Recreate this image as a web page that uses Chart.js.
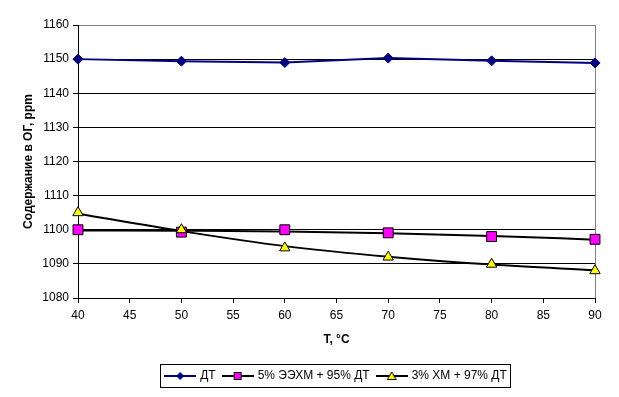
<!DOCTYPE html>
<html>
<head>
<meta charset="utf-8">
<script src="https://cdn.jsdelivr.net/npm/chart.js@4/dist/chart.umd.min.js"></script>
<style>
html,body{margin:0;padding:0;background:#fff;}
#wrap{width:619px;height:397px;}
</style>
</head>
<body>
<div id="wrap"><canvas id="c" width="619" height="397"></canvas></div>
<script>
// ---- data ----
const temps = [40, 50, 60, 70, 80, 90];
const seriesNames = ['ДТ', '5% ЭЭХМ + 95% ДТ', '3% ХМ + 97% ДТ'];
const dtValues = [1150, 1149.4, 1149, 1150.3, 1149.5, 1148.9];
const eehmValues = [1100, 1099.3, 1100, 1099.1, 1098, 1097.2];
const hmValues = [1105, 1100, 1094.7, 1092, 1089.9, 1088];
// trend lines as drawn in the reference (read at each temperature)
const eehmTrend = [1099.8, 1099.7, 1099.5, 1099.0, 1098.2, 1097.1];
const hmTrend = [1104.7, 1099.6, 1095.2, 1092.1, 1089.8, 1088.1];
const xTicks = [40, 45, 50, 55, 60, 65, 70, 75, 80, 85, 90];
const yTicks = [1080, 1090, 1100, 1110, 1120, 1130, 1140, 1150, 1160];
const xTitle = 'T, °C';
const yTitle = 'Содержание в ОГ, ppm';

const FONT = 'Arial, "Liberation Sans", sans-serif';
const pts = vals => temps.map((t, i) => ({x: t, y: vals[i]}));

function legendImg(kind) {
  const c = document.createElement('canvas');
  c.width = 32; c.height = 12;
  const g = c.getContext('2d');
  g.lineWidth = 2;
  g.strokeStyle = kind === 0 ? '#000080' : '#000';
  g.beginPath(); g.moveTo(0, 6); g.lineTo(32, 6); g.stroke();
  g.lineWidth = 1;
  if (kind === 0) {
    g.fillStyle = '#000080';
    g.beginPath(); g.moveTo(16, 2); g.lineTo(20, 6); g.lineTo(16, 10); g.lineTo(12, 6); g.closePath(); g.fill();
  } else if (kind === 1) {
    g.fillStyle = '#FF00FF'; g.strokeStyle = '#000';
    g.fillRect(12.5, 2.5, 7, 7); g.strokeRect(12.5, 2.5, 7, 7);
  } else {
    g.fillStyle = '#FFFF00'; g.strokeStyle = '#000';
    g.beginPath(); g.moveTo(16, 2); g.lineTo(20.5, 9.5); g.lineTo(11.5, 9.5); g.closePath(); g.fill(); g.stroke();
  }
  return c;
}
const legendImgs = [legendImg(0), legendImg(1), legendImg(2)];

const framePlugin = {
  id: 'frame',
  beforeDatasetsDraw(chart) {
    const {ctx, chartArea: a} = chart;
    ctx.save();
    ctx.strokeStyle = '#808080'; ctx.lineWidth = 1;
    ctx.beginPath(); ctx.moveTo(a.right + 0.5, a.top); ctx.lineTo(a.right + 0.5, a.bottom); ctx.stroke();
    ctx.restore();
  },
  afterDraw(chart) {
    const lg = chart.legend;
    if (!lg || !lg.legendHitBoxes || !lg.legendHitBoxes.length) return;
    const hb = lg.legendHitBoxes;
    const first = hb[0], last = hb[hb.length - 1];
    const l = Math.round(first.left - 6) + 0.5;
    const r = Math.round(last.left + last.width + 3) + 0.5;
    const t = Math.round(first.top - 6) + 0.5;
    const b = Math.round(first.top + first.height + 5) + 0.5;
    const ctx = chart.ctx;
    ctx.save();
    ctx.strokeStyle = '#000'; ctx.lineWidth = 1;
    ctx.strokeRect(l, t, r - l, b - t);
    ctx.restore();
  }
};

new Chart(document.getElementById('c'), {
  type: 'line',
  data: {
    datasets: [
      {label: seriesNames[0], data: pts(dtValues), borderColor: '#000080', backgroundColor: '#000080',
       borderWidth: 2, pointStyle: 'rectRot', pointRadius: 5, pointBorderWidth: 1, tension: 0, order: 2, clip: false},
      {label: seriesNames[1], data: pts(eehmValues), showLine: false, pointStyle: 'rect', pointRadius: 7,
       backgroundColor: '#FF00FF', borderColor: '#000', pointBorderWidth: 1, order: 1, clip: false},
      {label: seriesNames[2], data: pts(hmValues), showLine: false, pointStyle: 'triangle', pointRadius: 6,
       backgroundColor: '#FFFF00', borderColor: '#000', pointBorderWidth: 1, order: 0, clip: false},
      {label: 'trend1', data: pts(eehmTrend), borderColor: '#000', borderWidth: 2, pointRadius: 0,
       cubicInterpolationMode: 'monotone', order: 3, clip: false},
      {label: 'trend2', data: pts(hmTrend), borderColor: '#000', borderWidth: 2, pointRadius: 0,
       cubicInterpolationMode: 'monotone', order: 4, clip: false}
    ]
  },
  options: {
    responsive: false,
    animation: false,
    events: [],
    layout: {padding: {left: 0, right: 24, top: 25, bottom: 5}},
    scales: {
      x: {
        type: 'linear', min: 40, max: 90,
        afterBuildTicks: s => { s.ticks = xTicks.map(v => ({value: v})); },
        afterFit: s => { s.height = 64; },
        grid: {drawOnChartArea: false, drawTicks: true, tickLength: 5, color: '#000', tickColor: '#000'},
        border: {color: '#000', width: 1},
        ticks: {color: '#000', font: {family: FONT, size: 12}, padding: 5, maxRotation: 0, autoSkip: false,
                callback: v => String(v)},
        title: {display: true, text: xTitle, color: '#000', font: {family: FONT, size: 12, weight: 'bold'},
                padding: {top: 0, bottom: 15}}
      },
      y: {
        min: 1080, max: 1160,
        afterBuildTicks: s => { s.ticks = yTicks.map(v => ({value: v})); },
        afterFit: s => { s.width = 78; },
        grid: {color: c => (c.tick && c.tick.value === 1160) ? '#808080' : '#000', tickColor: '#000',
               tickLength: 5, lineWidth: 1},
        border: {color: '#000', width: 1},
        ticks: {color: '#000', font: {family: FONT, size: 12}, padding: 4, callback: v => String(v)},
        title: {display: true, text: yTitle, color: '#000', font: {family: FONT, size: 12, weight: 'bold'},
                padding: {top: 21, bottom: 0}}
      }
    },
    plugins: {
      tooltip: {enabled: false},
      legend: {
        display: true, position: 'bottom', fullSize: false,
        labels: {
          usePointStyle: true, pointStyleWidth: 28, padding: 8, color: '#000',
          font: {family: FONT, size: 12},
          generateLabels: () => seriesNames.map((n, i) => ({
            text: n, pointStyle: legendImgs[i], datasetIndex: i, hidden: false,
            fillStyle: 'transparent', strokeStyle: 'transparent', lineWidth: 0, fontColor: '#000'
          }))
        }
      }
    }
  },
  plugins: [framePlugin]
});
</script>
</body>
</html>
